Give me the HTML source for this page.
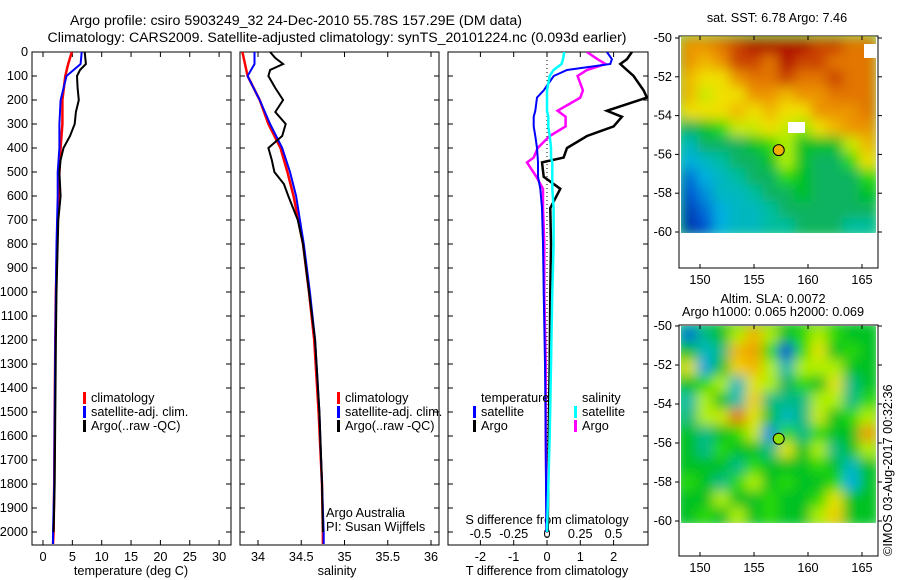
<!DOCTYPE html>
<html><head><meta charset="utf-8">
<style>
html,body{margin:0;padding:0;background:#fff;}
svg{display:block;font-family:"Liberation Sans",sans-serif;}
text{font-size:12.7px;fill:#000;}
</style></head>
<body>
<svg id="fig" width="900" height="580" viewBox="0 0 900 580" xmlns="http://www.w3.org/2000/svg">
<defs>
<filter id="blur" x="0" y="0" width="1" height="1"><feGaussianBlur stdDeviation="6"/></filter>
<clipPath id="clip1"><rect x="681" y="36" width="195" height="197"/></clipPath>
<clipPath id="clip2"><rect x="681" y="326" width="195" height="197"/></clipPath>
<clipPath id="cp1"><rect x="32" y="52" width="199" height="493"/></clipPath>
<clipPath id="cp2"><rect x="240" y="52" width="199" height="493"/></clipPath>
<clipPath id="cp3"><rect x="448" y="52" width="200" height="493"/></clipPath>
</defs>
<text x="296" y="25" text-anchor="middle" style="font-size:14.2px">Argo profile: csiro 5903249_32 24-Dec-2010 55.78S 157.29E (DM data)</text>
<text x="337" y="42" text-anchor="middle" style="font-size:14.1px">Climatology: CARS2009. Satellite-adjusted climatology: synTS_20101224.nc (0.093d earlier)</text>
<g id="g"></g>
</svg>
<script>
// ---- data ----
const depthTicks=[0,100,200,300,400,500,600,700,800,900,1000,1100,1200,1300,1400,1500,1600,1700,1800,1900,2000];
const tempTicks=[0,5,10,15,20,25,30];
const salTicks=[34,34.5,35,35.5,36];
const salTickLabels=["34","34.5","35","35.5","36"];
const tdiffTicks=[-2,-1,0,1,2];
const sdiffTicks=[-0.5,-0.25,0,0.25,0.5];
const sdiffTickLabels=["-0.5","-0.25","0","0.25","0.5"];

const climDepth=[0,50,100,200,300,400,500,600,800,1000,1200,1500,1800,2000,2050];
const climTemp=[4.9,4.3,3.8,3.3,3.3,3.0,2.8,2.6,2.4,2.2,2.1,2.0,1.9,1.8,1.7];
const satTemp=[6.6,6.4,4.0,3.0,2.8,2.8,2.5,2.5,2.3,2.2,2.1,2.0,1.9,1.7,1.7];
const climSal=[33.82,33.85,33.88,34.02,34.12,34.26,34.34,34.41,34.52,34.59,34.65,34.7,34.74,34.75,34.75];
const satSal=[33.96,33.96,33.88,34.02,34.14,34.28,34.37,34.44,34.53,34.6,34.66,34.71,34.74,34.76,34.76];

const argoDepth=[0,25,50,75,100,150,200,250,300,350,400,450,500,550,600,700,800,1000,1200,1500,1800,2000];
const argoTemp=[7.1,7.2,7.3,6.3,5.8,5.9,6.1,5.6,5.4,4.6,3.5,3.0,2.8,2.9,3.0,2.6,2.5,2.3,2.2,2.1,2.0,1.8];
const argoSal=[34.14,34.2,34.29,34.14,34.12,34.2,34.29,34.2,34.32,34.28,34.12,34.16,34.19,34.3,34.35,34.46,34.52,34.59,34.66,34.71,34.74,34.75];

const diffDepth=[0,30,50,75,100,160,190,245,270,310,350,400,440,460,520,570,650,800,1000,1300,1600,2000];
const tDiffSat=[1.8,1.95,1.9,0.6,0.2,-0.1,-0.3,-0.35,-0.4,-0.4,-0.35,-0.3,-0.28,-0.27,-0.27,-0.2,-0.15,-0.12,-0.1,-0.06,-0.04,-0.02];
const tDiffArgo=[2.55,2.4,2.2,2.4,2.6,2.9,3.0,1.8,2.25,2.0,1.2,0.6,0.5,-0.15,-0.1,0.4,0.1,0.12,0.1,0.08,0.05,0.02];
const sDiffSat=[0.13,0.12,0.11,0.05,0.02,0.0,0.0,0.0,0.01,0.01,0.02,0.03,0.03,0.04,0.04,0.04,0.05,0.05,0.04,0.03,0.02,0.0];
const sDiffArgo=[0.3,0.38,0.44,0.3,0.23,0.27,0.25,0.08,0.14,0.14,0.02,-0.07,-0.1,-0.15,-0.08,-0.03,-0.03,-0.02,-0.02,-0.01,-0.01,0.0];

const lonTicks=[150,155,160,165];
const latTicks=[-50,-52,-54,-56,-58,-60];
const sstGrid=[
[.8,.8,.85,.9,.95,.95,.95,.95,.9,.9,.85,.85],
[.8,.75,.8,.9,.9,.85,.95,.9,.9,.85,.85,.85],
[.75,.7,.7,.8,.85,.85,.9,.85,.85,.9,.85,.85],
[.75,.65,.7,.7,.8,.8,.75,.8,.8,.85,.85,.85],
[.7,.7,.7,.75,.7,.75,.7,.7,.8,.8,.8,.85],
[.45,.5,.55,.65,.65,.7,.65,.6,.7,.75,.8,.8],
[.35,.45,.45,.45,.5,.55,.62,.5,.5,.5,.65,.75],
[.3,.35,.4,.45,.45,.5,.62,.5,.45,.45,.55,.7],
[.2,.3,.35,.4,.45,.45,.55,.5,.45,.45,.45,.55],
[.15,.25,.35,.35,.4,.45,.45,.5,.45,.45,.45,.5],
[.1,.2,.3,.35,.35,.4,.45,.45,.45,.45,.45,.45],
[.08,.15,.3,.35,.35,.4,.4,.45,.45,.45,.4,.4]];
const slaGrid=[
[.2,.42,.5,.62,.75,.62,.5,.55,.62,.55,.5,.5],
[.5,.35,.42,.75,.78,.55,.15,.55,.68,.5,.55,.5],
[.68,.28,.5,.72,.75,.62,.38,.62,.62,.62,.5,.5],
[.5,.55,.62,.35,.68,.62,.45,.55,.5,.68,.42,.5],
[.38,.62,.5,.38,.72,.42,.42,.42,.62,.62,.42,.55],
[.42,.62,.65,.85,.68,.5,.35,.42,.65,.5,.55,.62],
[.5,.42,.5,.55,.65,.25,.55,.42,.55,.5,.5,.78],
[.5,.42,.55,.5,.5,.42,.68,.5,.62,.42,.5,.62],
[.5,.5,.5,.42,.55,.5,.5,.5,.55,.5,.35,.5],
[.55,.5,.42,.55,.62,.5,.55,.5,.5,.55,.3,.5],
[.5,.5,.62,.5,.5,.55,.5,.5,.55,.68,.5,.5],
[.5,.55,.5,.62,.5,.55,.5,.5,.62,.72,.5,.5]];
const argoLon=157.29, argoLat=-55.78;

// ---- helpers ----
const NS="http://www.w3.org/2000/svg";
const G=document.getElementById('g');
function el(tag,attrs,parent){const e=document.createElementNS(NS,tag);for(const k in attrs)e.setAttribute(k,attrs[k]);(parent||G).appendChild(e);return e;}
function txt(x,y,s,anchor,parent){const t=el('text',{x:x,y:y,'text-anchor':anchor||'start'},parent);t.textContent=s;return t;}
const yD=d=>52+d*0.24;
const xT=t=>43+t*5.87;
const xS=s=>258+(s-34)*86.5;
const xTd=t=>547+t*33.3;
const xSd=s=>547+s*133;
const mx=lon=>700+(lon-150)*10.8;
const my1=lat=>38+(-50-lat)*19.4;
const my2=lat=>326+(-50-lat)*19.5;

function frame(x0,x1,name){
  const r=el('rect',{x:x0,y:52,width:x1-x0,height:493,fill:'none',stroke:'#000','stroke-width':1});
  
  
}
function line(xs,ds,fx,color,w,clip,name){
  const pts=xs.map((v,i)=>fx(v).toFixed(1)+','+yD(ds[i]).toFixed(1)).join(' ');
  const p=el('polyline',{points:pts,fill:'none',stroke:color,'stroke-width':w,'clip-path':'url(#'+clip+')'});
  
  
}
function xticks(ticks,labels,fx,ylab){
  ticks.forEach((t,i)=>{const x=fx(t);
    el('line',{x1:x,x2:x,y1:52,y2:57,stroke:'#000'});
    el('line',{x1:x,x2:x,y1:545,y2:540,stroke:'#000'});
    if(ylab){const l=txt(x,ylab,labels[i],'middle');
      
      }
  });
}
function legendEntry(x,y,color,label,name){
  el('rect',{x:x,y:y-10,width:3,height:12,fill:color});
  const t=txt(x+8,y,label);
  
  
}

frame(32,231,'temperature-panel');
frame(240,439,'salinity-panel');
frame(448,648,'difference-panel');

depthTicks.forEach(d=>{const y=yD(d);
  [[32,37],[231,226],[240,245],[439,434],[448,453],[648,643]].forEach(a=>el('line',{x1:a[0],x2:a[1],y1:y,y2:y,stroke:'#000'}));
  const l=txt(28,y+4,String(d),'end');
  
  
});

// panel 1
xticks(tempTicks,tempTicks.map(String),xT,561);
let t1=txt(131,575,'temperature (deg C)','middle');

line(climTemp,climDepth,xT,'#f00',2.5,'cp1','temp-climatology-line');
line(satTemp,climDepth,xT,'#00f',2,'cp1','temp-satellite-line');
line(argoTemp,argoDepth,xT,'#000',2,'cp1','temp-argo-line');
legendEntry(83,402,'#f00','climatology','legend-climatology');
legendEntry(83,416,'#00f','satellite-adj. clim.','legend-satellite');
legendEntry(83,430,'#000','Argo(..raw -QC)','legend-argo');

// panel 2
xticks(salTicks,salTickLabels,xS,561);
let t2=txt(337,575,'salinity','middle');

line(climSal,climDepth,xS,'#f00',2.5,'cp2','sal-climatology-line');
line(satSal,climDepth,xS,'#00f',2,'cp2','sal-satellite-line');
line(argoSal,argoDepth,xS,'#000',2,'cp2','sal-argo-line');
legendEntry(337,402,'#f00','climatology','legend-climatology-2');
legendEntry(337,416,'#00f','satellite-adj. clim.','legend-satellite-2');
legendEntry(337,430,'#000','Argo(..raw -QC)','legend-argo-2');
let c1=txt(326,517,'Argo Australia');
let c2=txt(326,531,'PI: Susan Wijffels');

// panel 3
xticks(tdiffTicks,tdiffTicks.map(String),xTd,561);
sdiffTicks.forEach((s,i)=>{const l=txt(xSd(s),538,sdiffTickLabels[i],'middle');
  });
let t3=txt(547,524,'S difference from climatology','middle');

let t4=txt(547,575,'T difference from climatology','middle');

el('line',{x1:547,x2:547,y1:52,y2:545,stroke:'#000','stroke-dasharray':'1,3'});
line(tDiffArgo,diffDepth,xTd,'#000',2.5,'cp3','tdiff-argo-line');
line(sDiffArgo,diffDepth,xSd,'#f0f',2.5,'cp3','sdiff-argo-line');
line(tDiffSat,diffDepth,xTd,'#00f',2,'cp3','tdiff-satellite-line');
line(sDiffSat,diffDepth,xSd,'#0ff',2.5,'cp3','sdiff-satellite-line');
let lt=txt(481,402,'temperature');
let ls=txt(582,402,'salinity');
legendEntry(473,416,'#00f','satellite','legend-t-satellite');
legendEntry(473,430,'#000','Argo','legend-t-argo');
legendEntry(574,416,'#0ff','satellite','legend-s-satellite');
legendEntry(574,430,'#f0f','Argo','legend-s-argo');

// ---- maps ----
const stops=[[0,[0,16,138]],[0.15,[0,80,210]],[0.3,[0,176,224]],[0.4,[0,190,160]],[0.47,[10,175,70]],[0.53,[0,210,0]],[0.62,[176,240,0]],[0.7,[240,224,0]],[0.78,[240,160,0]],[0.86,[224,112,0]],[0.95,[176,16,0]],[1,[140,0,0]]];
function cmap(v){for(let i=1;i<stops.length;i++){if(v<=stops[i][0]){const a=stops[i-1],b=stops[i];const f=(v-a[0])/(b[0]-a[0]);
  const c=a[1].map((x,k)=>Math.round(x+(b[1][k]-x)*f));return 'rgb('+c.join(',')+')';}}return 'rgb(140,0,0)';}
function map(grid,y0,yEnd,fy,clip,name,circleFill){
  const fr=el('rect',{x:679,y:y0-2,width:199,height:yEnd-y0+2,fill:'#fff',stroke:'#000'});
  
  const cg=el('g',{'clip-path':'url(#'+clip+')'});
  const gg=el('g',{filter:'url(#blur)'},cg);
  const n=grid.length,m=grid[0].length,W=195/m,H=197/n;
  el('rect',{x:675,y:y0-6,width:205,height:206,fill:cmap(0.5)},gg);
  grid.forEach((row,r)=>row.forEach((v,c)=>{
    const cell=el('rect',{x:681+c*W-0.5,y:y0+r*H-0.5,width:W+1,height:H+1,fill:cmap(v)},gg);
    
    
  }));
  lonTicks.forEach(l=>{const x=mx(l);
    el('line',{x1:x,x2:x,y1:yEnd,y2:yEnd-4,stroke:'#000'});
    el('line',{x1:x,x2:x,y1:y0-2,y2:y0+2,stroke:'#000'});
    const t=txt(x,yEnd+16,String(l),'middle');});
  latTicks.forEach(l=>{const y=fy(l);
    el('line',{x1:675,x2:679,y1:y,y2:y,stroke:'#000'});
    el('line',{x1:878,x2:882,y1:y,y2:y,stroke:'#000'});
    const t=txt(672,y+4,String(l),'end');});
  const c=el('circle',{cx:mx(argoLon),cy:fy(argoLat),r:5.5,fill:circleFill,stroke:'#000'});
  
}
map(sstGrid,38,268,my1,'clip1','sst-map','#f0b000');
el('rect',{x:864,y:44,width:12,height:14,fill:'#fff'});
el('rect',{x:788,y:122,width:17,height:11,fill:'#fff'});
let st=txt(777,22,'sat. SST: 6.78 Argo: 7.46','middle');
map(slaGrid,327,556,my2,'clip2','sla-map','#90e000');
let s1=txt(773,303,'Altim. SLA: 0.0072','middle');
let s2=txt(773,316,'Argo h1000: 0.065 h2000: 0.069','middle');
const cr=txt(0,0,'©IMOS 03-Aug-2017 00:32:36','start');
cr.setAttribute('transform','translate(892,556) rotate(-90)');

</script>
</body></html>
